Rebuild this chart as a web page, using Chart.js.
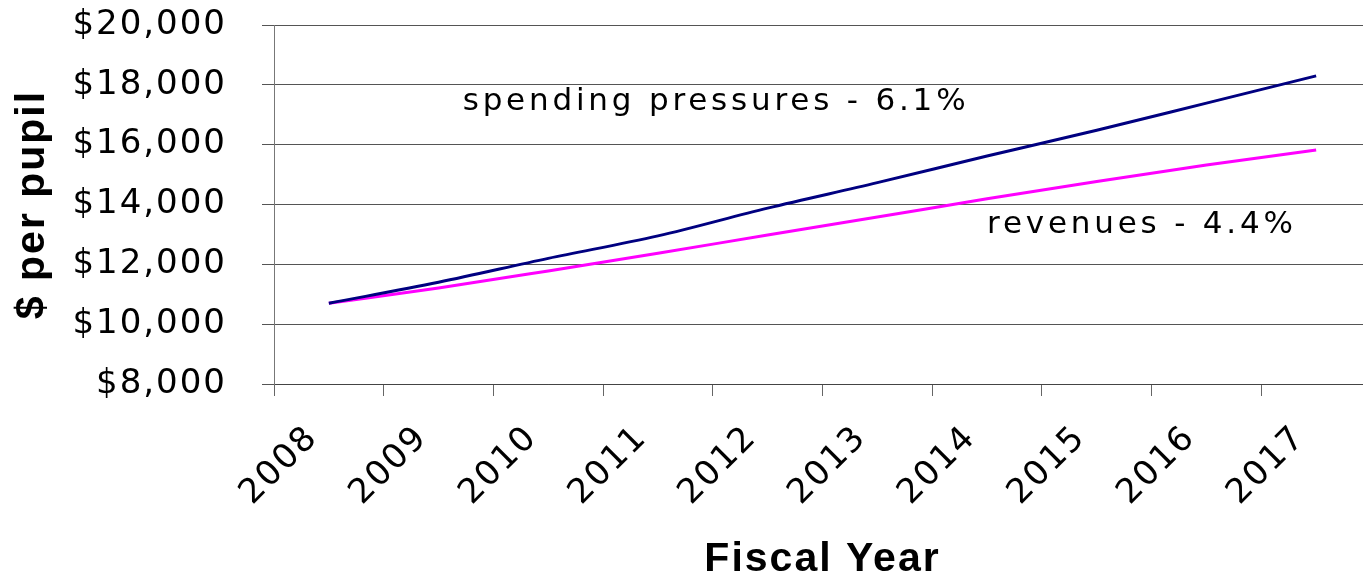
<!DOCTYPE html>
<html>
<head>
<meta charset="utf-8">
<script src="https://cdn.jsdelivr.net/npm/chart.js@4/dist/chart.umd.min.js"></script>
<style>
  html, body { margin: 0; padding: 0; background: #fff; overflow: hidden; }
  #wrap { width: 1363px; height: 577px; overflow: hidden; }
</style>
</head>
<body>
<div id="wrap"><canvas id="chart" width="1378" height="577"></canvas></div>
<script>
// Data
const years = ["2008", "2009", "2010", "2011", "2012", "2013", "2014", "2015", "2016", "2017"];
const spending = [10700, 11400, 12200, 12950, 13880, 14730, 15620, 16480, 17390, 18300];
const revenues = [10700, 11210, 11780, 12370, 12980, 13580, 14190, 14770, 15320, 15820];

const yMin = 8000;
const yMax = 20000;
const yStep = 2000;

// in-chart labels: text, category index and value they sit at
const noteTexts = ["spending pressures - 6.1%", "revenues - 4.4%"];
const noteAtIndex = [1.22, 6.0];
const noteAtValue = [17430, 13330];

const spacingPlugin = {
  id: "spacing",
  beforeUpdate(chart) { chart.ctx.letterSpacing = "2px"; },
  beforeDraw(chart) { chart.ctx.letterSpacing = "2px"; }
};

const notesPlugin = {
  id: "notes",
  afterDatasetsDraw(chart) {
    const ctx = chart.ctx;
    const xs = chart.scales.x, ys = chart.scales.y;
    ctx.save();
    ctx.font = "31px 'DejaVu Sans'";
    ctx.letterSpacing = "3.8px";
    ctx.fillStyle = "#000";
    ctx.textAlign = "left";
    ctx.textBaseline = "middle";
    noteTexts.forEach((t, i) => {
      ctx.fillText(t, xs.getPixelForValue(noteAtIndex[i]), ys.getPixelForValue(noteAtValue[i]));
    });
    ctx.restore();
  }
};

new Chart(document.getElementById("chart"), {
  type: "line",
  data: {
    labels: years,
    datasets: [
      { label: "spending pressures", data: spending, borderColor: "#000080", borderWidth: 3, pointRadius: 0, cubicInterpolationMode: "monotone" },
      { label: "revenues", data: revenues, borderColor: "#ff00ff", borderWidth: 3, pointRadius: 0, cubicInterpolationMode: "monotone" }
    ]
  },
  options: {
    responsive: false,
    animation: false,
    layout: { padding: { top: 25, right: 7, bottom: 0, left: 0 } },
    plugins: { legend: { display: false }, tooltip: { enabled: false } },
    scales: {
      x: {
        offset: true,
        grid: { display: true, drawOnChartArea: false, drawTicks: true, tickLength: 12, offset: true, color: "#666" },
        border: { display: true, color: "#444" },
        ticks: { color: "#000", font: { family: "DejaVu Sans", size: 34 }, minRotation: 45, maxRotation: 45, padding: 22, labelOffset: -16 },
        title: { display: true, text: "Fiscal Year", color: "#000", font: { family: "Liberation Sans", size: 41, weight: "bold", lineHeight: 0.85 }, padding: 0 },
        afterFit(scale) {
          scale.height = 193;
          scale.paddingLeft = 0;
          scale.paddingRight = 0;
        }
      },
      y: {
        min: yMin,
        max: yMax,
        grid: { color: "#555", tickLength: 12 },
        border: { display: true, color: "#777" },
        ticks: {
          stepSize: yStep,
          color: "#000",
          padding: 35,
          font: { family: "DejaVu Sans", size: 34 },
          callback: v => "$" + v.toLocaleString("en-US")
        },
        title: { display: true, text: "$ per pupil", color: "#000", font: { family: "Liberation Sans", size: 41, weight: "bold", lineHeight: 1.0 }, padding: 12 },
        afterFit(scale) {
          scale.width = 274;
          scale.paddingTop = 0;
          scale.paddingBottom = 0;
        }
      }
    }
  },
  plugins: [spacingPlugin, notesPlugin]
});
</script>
</body>
</html>
